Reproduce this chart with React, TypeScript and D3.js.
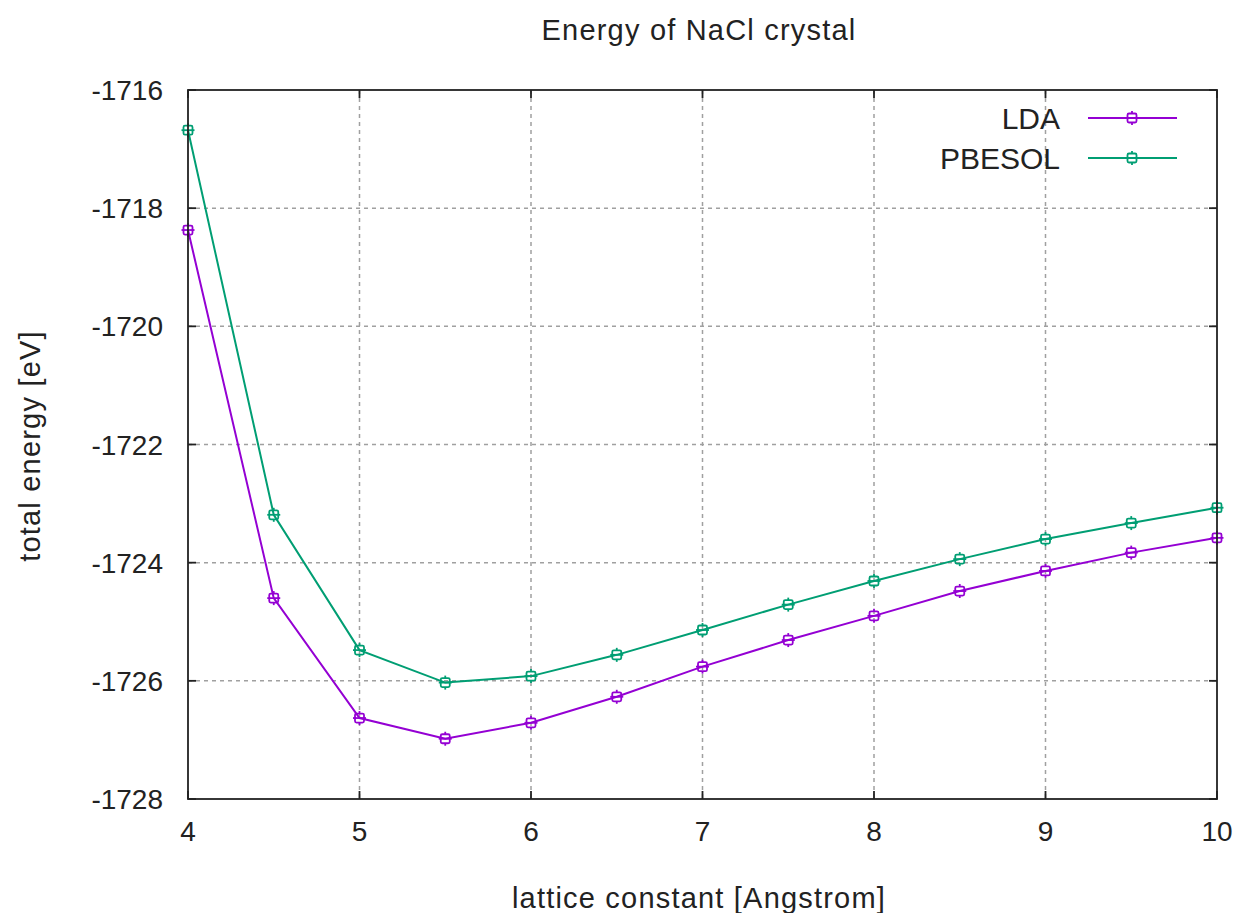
import * as d3 from 'd3';
import React, { useRef, useEffect } from 'react';

// lattice constants [Angstrom]
const latticeConst = [4, 4.5, 5, 5.5, 6, 6.5, 7, 7.5, 8, 8.5, 9, 9.5, 10];
// total energies [eV]
const ldaEnergy = [-1718.37, -1724.6, -1726.63, -1726.98, -1726.71, -1726.27, -1725.76, -1725.31, -1724.9, -1724.48, -1724.14, -1723.83, -1723.58];
const pbesolEnergy = [-1716.68, -1723.19, -1725.48, -1726.03, -1725.92, -1725.56, -1725.14, -1724.71, -1724.31, -1723.94, -1723.6, -1723.33, -1723.07];
const xTicks = [4, 5, 6, 7, 8, 9, 10];
const yTicks = [-1716, -1718, -1720, -1722, -1724, -1726, -1728];
const seriesNames = ['LDA', 'PBESOL'];
const seriesColors = ['#9400d3', '#009e73'];

const W = 1242, H = 913;
const left = 188, right = 1217, top = 90, bottom = 799;
const FONT = '"Liberation Sans", Arial, sans-serif';

function App() {
  const ref = useRef<SVGSVGElement>(null);

  useEffect(() => {
    const svg = d3.select(ref.current);
    svg.selectAll('*').remove();

    const x = d3.scaleLinear().domain([4, 10]).range([left, right]);
    const y = d3.scaleLinear().domain([-1728, -1716]).range([bottom, top]);

    // grid
    const grid = svg.append('g').attr('stroke', '#a0a0a0').attr('stroke-width', 1.5).attr('stroke-dasharray', '4,4');
    xTicks.slice(1, -1).forEach(t => {
      grid.append('line').attr('x1', x(t)).attr('x2', x(t)).attr('y1', top).attr('y2', bottom);
    });
    yTicks.slice(1, -1).forEach(t => {
      grid.append('line').attr('x1', left).attr('x2', right).attr('y1', y(t)).attr('y2', y(t));
    });

    // ticks (inward, on all sides)
    const tk = svg.append('g').attr('stroke', '#222').attr('stroke-width', 1.8);
    xTicks.forEach(t => {
      tk.append('line').attr('x1', x(t)).attr('x2', x(t)).attr('y1', bottom).attr('y2', bottom - 8);
      tk.append('line').attr('x1', x(t)).attr('x2', x(t)).attr('y1', top).attr('y2', top + 8);
    });
    yTicks.forEach(t => {
      tk.append('line').attr('x1', left).attr('x2', left + 8).attr('y1', y(t)).attr('y2', y(t));
      tk.append('line').attr('x1', right).attr('x2', right - 8).attr('y1', y(t)).attr('y2', y(t));
    });

    // tick labels
    svg.append('g').selectAll('text').data(xTicks).enter().append('text')
      .attr('x', d => x(d)).attr('y', 841).attr('text-anchor', 'middle')
      .attr('font-family', FONT).attr('font-size', 28).attr('fill', '#222')
      .text(d => d);
    svg.append('g').selectAll('text').data(yTicks).enter().append('text')
      .attr('x', 163).attr('y', d => y(d) + 10).attr('text-anchor', 'end')
      .attr('font-family', FONT).attr('font-size', 28).attr('fill', '#222')
      .text(d => d);

    // marker: square with small crossing ticks
    const marker = (g: any, cx: number, cy: number, color: string) => {
      const m = g.append('g').attr('stroke', color).attr('stroke-width', 1.8).attr('fill', 'none');
      m.append('rect').attr('x', cx - 4.5).attr('y', cy - 4.5).attr('width', 9).attr('height', 9).attr('rx', 1.5);
      m.append('line').attr('x1', cx - 6.5).attr('x2', cx + 6.5).attr('y1', cy).attr('y2', cy);
      m.append('line').attr('x1', cx).attr('x2', cx).attr('y1', cy - 7).attr('y2', cy - 4.5);
      m.append('line').attr('x1', cx).attr('x2', cx).attr('y1', cy + 4.5).attr('y2', cy + 7);
    };

    const line = d3.line<[number, number]>().x(d => x(d[0])).y(d => y(d[1]));
    [ldaEnergy, pbesolEnergy].forEach((vals, i) => {
      const pts: [number, number][] = latticeConst.map((c, j) => [c, vals[j]]);
      svg.append('path').datum(pts).attr('d', line).attr('fill', 'none')
        .attr('stroke', seriesColors[i]).attr('stroke-width', 2);
      const g = svg.append('g');
      pts.forEach(p => marker(g, x(p[0]), y(p[1]), seriesColors[i]));
    });

    // frame
    svg.append('rect').attr('x', left).attr('y', top).attr('width', right - left).attr('height', bottom - top)
      .attr('fill', 'none').attr('stroke', '#222').attr('stroke-width', 1.8);

    // legend
    seriesNames.forEach((name, i) => {
      const ly = 118 + i * 40;
      svg.append('text').attr('x', 1060).attr('y', ly + 11).attr('text-anchor', 'end')
        .attr('font-family', FONT).attr('font-size', 30).attr('fill', '#222').text(name);
      svg.append('line').attr('x1', 1088).attr('x2', 1177).attr('y1', ly).attr('y2', ly)
        .attr('stroke', seriesColors[i]).attr('stroke-width', 2);
      marker(svg, 1132, ly, seriesColors[i]);
    });

    // titles
    svg.append('text').attr('x', 699).attr('y', 40).attr('text-anchor', 'middle')
      .attr('font-family', FONT).attr('font-size', 29).attr('letter-spacing', 1.2).attr('fill', '#222').text('Energy of NaCl crystal');
    svg.append('text').attr('x', 699).attr('y', 908).attr('text-anchor', 'middle')
      .attr('font-family', FONT).attr('font-size', 29).attr('letter-spacing', 1.2).attr('fill', '#222').text('lattice constant [Angstrom]');
    svg.append('text').attr('transform', 'translate(40,446) rotate(-90)').attr('text-anchor', 'middle')
      .attr('font-family', FONT).attr('font-size', 29).attr('letter-spacing', 1.2).attr('fill', '#222').text('total energy [eV]');
  }, []);

  return (
    <svg ref={ref} width={W} height={H} style={{ position: 'absolute', left: 0, top: 0, background: '#fff' }} />
  );
}

export default App;
